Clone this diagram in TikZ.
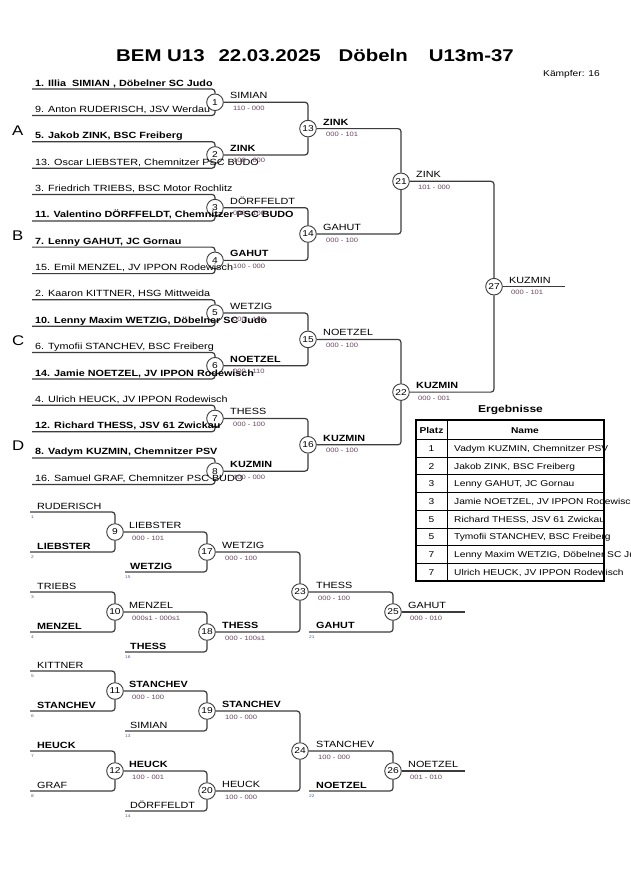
\documentclass[tikz,border=0pt]{standalone}
\usepackage{fontspec}
\setmainfont{Liberation Sans}[FakeStretch=1.2]
\definecolor{linecol}{RGB}{60,60,60}
\definecolor{scorecol}{RGB}{105,70,95}
\definecolor{tinycol}{RGB}{70,90,150}
\begin{document}
\begin{tikzpicture}[x=1pt,y=-1pt,
  ent/.style={anchor=base west,inner sep=0,font=\fontsize{9}{10}\selectfont},
  entb/.style={anchor=base west,inner sep=0,font=\fontsize{9}{10}\selectfont\bfseries},
  sc/.style={anchor=base west,inner sep=0,font=\fontsize{6.3}{7}\selectfont,text=scorecol},
  tiny/.style={anchor=base west,inner sep=0,font=\fontsize{4}{4}\selectfont,text=tinycol},
  num/.style={circle,draw=linecol,fill=white,minimum size=16.6pt,inner sep=0,line width=0.9pt,font=\fontsize{8.5}{9}\selectfont},
  conn/.style={draw=linecol,line width=1.2pt,rounded corners=3pt},
  grp/.style={anchor=base west,inner sep=0,font=\fontsize{14}{15}\selectfont},
  tabtxt/.style={anchor=base west,inner sep=0,font=\fontsize{8.5}{9}\selectfont},
  tabnum/.style={anchor=base,inner sep=0,font=\fontsize{8.5}{9}\selectfont},
  tabhead/.style={anchor=base,inner sep=0,font=\fontsize{8.5}{9}\selectfont\bfseries}
]
\useasboundingbox[fill=white] (0,0) rectangle (630,891);

% ---------- title ----------
\node[anchor=base west,inner sep=0,font=\fontsize{17}{19}\selectfont\bfseries] (title) at (116,62)
  {BEM U13\hspace{14pt}22.03.2025\hspace{18pt}Döbeln\hspace{21pt}U13m-37};
\node[anchor=base west,inner sep=0,font=\fontsize{8.5}{9}\selectfont] (kaempfer) at (543,76) {Kämpfer: 16};

% ---------- group letters ----------
\node[grp] (gA) at (12,135) {A};
\node[grp] (gB) at (12,240) {B};
\node[grp] (gC) at (12,345) {C};
\node[grp] (gD) at (12,450) {D};

% ---------- main bracket: entry line starts ----------
\coordinate (e1) at (32,89.0);
\coordinate (e2) at (32,115.5);
\coordinate (e3) at (32,141.7);
\coordinate (e4) at (32,168.2);
\coordinate (e5) at (32,194.4);
\coordinate (e6) at (32,220.9);
\coordinate (e7) at (32,247.1);
\coordinate (e8) at (32,273.6);
\coordinate (e9) at (32,299.8);
\coordinate (e10) at (32,326.3);
\coordinate (e11) at (32,352.5);
\coordinate (e12) at (32,379.0);
\coordinate (e13) at (32,405.2);
\coordinate (e14) at (32,431.7);
\coordinate (e15) at (32,457.9);
\coordinate (e16) at (32,484.4);
\coordinate (fin) at (565,286.7);

% ---------- main bracket: match circles ----------
\node[num] (m1) at (215,102.25) {1};
\node[num] (m2) at (215,154.95) {2};
\node[num] (m3) at (215,207.65) {3};
\node[num] (m4) at (215,260.35) {4};
\node[num] (m5) at (215,313.05) {5};
\node[num] (m6) at (215,365.75) {6};
\node[num] (m7) at (215,418.45) {7};
\node[num] (m8) at (215,471.15) {8};
\node[num] (m13) at (308,128.6) {13};
\node[num] (m14) at (308,234.0) {14};
\node[num] (m15) at (308,339.4) {15};
\node[num] (m16) at (308,444.8) {16};
\node[num] (m21) at (401,181.3) {21};
\node[num] (m22) at (401,392.1) {22};
\node[num] (m27) at (494,286.7) {27};

% ---------- main bracket connectors ----------
\draw[conn] (e1) -| (m1);  \draw[conn] (e2) -| (m1);
\draw[conn] (e3) -| (m2);  \draw[conn] (e4) -| (m2);
\draw[conn] (e5) -| (m3);  \draw[conn] (e6) -| (m3);
\draw[conn] (e7) -| (m4);  \draw[conn] (e8) -| (m4);
\draw[conn] (e9) -| (m5);  \draw[conn] (e10) -| (m5);
\draw[conn] (e11) -| (m6); \draw[conn] (e12) -| (m6);
\draw[conn] (e13) -| (m7); \draw[conn] (e14) -| (m7);
\draw[conn] (e15) -| (m8); \draw[conn] (e16) -| (m8);
\draw[conn] (m1) -| (m13); \draw[conn] (m2) -| (m13);
\draw[conn] (m3) -| (m14); \draw[conn] (m4) -| (m14);
\draw[conn] (m5) -| (m15); \draw[conn] (m6) -| (m15);
\draw[conn] (m7) -| (m16); \draw[conn] (m8) -| (m16);
\draw[conn] (m13) -| (m21); \draw[conn] (m14) -| (m21);
\draw[conn] (m15) -| (m22); \draw[conn] (m16) -| (m22);
\draw[conn] (m21) -| (m27); \draw[conn] (m22) -| (m27);
\draw[conn] (m27) -- (fin);

% ---------- main bracket: entries ----------
\node[entb] (t1) at (35,86.0) {1. Illia\ \ SIMIAN , Döbelner SC Judo};
\node[ent]  (t2) at (35,112.5) {9. Anton RUDERISCH, JSV Werdau};
\node[entb] (t3) at (35,138.7) {5. Jakob ZINK, BSC Freiberg};
\node[ent]  (t4) at (35,165.2) {13. Oscar LIEBSTER, Chemnitzer PSC BUDO};
\node[ent]  (t5) at (35,191.4) {3. Friedrich TRIEBS, BSC Motor Rochlitz};
\node[entb] (t6) at (35,217.9) {11. Valentino DÖRFFELDT, Chemnitzer PSC BUDO};
\node[entb] (t7) at (35,244.1) {7. Lenny GAHUT, JC Gornau};
\node[ent]  (t8) at (35,270.6) {15. Emil MENZEL, JV IPPON Rodewisch};
\node[ent]  (t9) at (35,296.8) {2. Kaaron KITTNER, HSG Mittweida};
\node[entb] (t10) at (35,323.3) {10. Lenny Maxim WETZIG, Döbelner SC Judo};
\node[ent]  (t11) at (35,349.5) {6. Tymofii STANCHEV, BSC Freiberg};
\node[entb] (t12) at (35,376.0) {14. Jamie NOETZEL, JV IPPON Rodewisch};
\node[ent]  (t13) at (35,402.2) {4. Ulrich HEUCK, JV IPPON Rodewisch};
\node[entb] (t14) at (35,428.7) {12. Richard THESS, JSV 61 Zwickau};
\node[entb] (t15) at (35,454.9) {8. Vadym KUZMIN, Chemnitzer PSV};
\node[ent]  (t16) at (35,481.4) {16. Samuel GRAF, Chemnitzer PSC BUDO};

% ---------- main bracket: winners and scores ----------
\node[ent]  (w1) at (230,98.75) {SIMIAN};     \node[sc] (s1) at (233,110.25) {110 - 000};
\node[entb] (w2) at (230,151.45) {ZINK};      \node[sc] (s2) at (233,162.95) {100 - 000};
\node[ent]  (w3) at (230,204.15) {DÖRFFELDT}; \node[sc] (s3) at (233,215.65) {000 - 100};
\node[entb] (w4) at (230,256.85) {GAHUT};     \node[sc] (s4) at (233,268.35) {100 - 000};
\node[ent]  (w5) at (230,309.55) {WETZIG};    \node[sc] (s5) at (233,321.05) {000 - 100};
\node[entb] (w6) at (230,362.25) {NOETZEL};   \node[sc] (s6) at (233,373.75) {000 - 110};
\node[ent]  (w7) at (230,414.95) {THESS};     \node[sc] (s7) at (233,426.45) {000 - 100};
\node[entb] (w8) at (230,467.65) {KUZMIN};    \node[sc] (s8) at (233,479.15) {100 - 000};
\node[entb] (w13) at (323,125.1) {ZINK};      \node[sc] (s13) at (326,136.6) {000 - 101};
\node[ent]  (w14) at (323,230.5) {GAHUT};     \node[sc] (s14) at (326,242.0) {000 - 100};
\node[ent]  (w15) at (323,335.9) {NOETZEL};   \node[sc] (s15) at (326,347.4) {000 - 100};
\node[entb] (w16) at (323,441.3) {KUZMIN};    \node[sc] (s16) at (326,452.8) {000 - 100};
\node[ent]  (w21) at (416,177.8) {ZINK};      \node[sc] (s21) at (418,189.3) {101 - 000};
\node[entb] (w22) at (416,388.6) {KUZMIN};    \node[sc] (s22) at (418,400.1) {000 - 001};
\node[ent]  (w27) at (509,283.2) {KUZMIN};    \node[sc] (s27) at (511,294.7) {000 - 101};

% ---------- repechage: coordinates ----------
\coordinate (r1) at (30,512);  \coordinate (r2) at (30,552);
\coordinate (r15) at (125,572);
\coordinate (r3) at (30,592);  \coordinate (r4) at (30,632);
\coordinate (r16) at (125,652);
\coordinate (r21) at (309,632);
\coordinate (f25) at (465,612);
\coordinate (r5) at (30,671);  \coordinate (r6) at (30,711);
\coordinate (r13) at (125,731);
\coordinate (r7) at (30,751);  \coordinate (r8) at (30,791);
\coordinate (r14) at (125,811);
\coordinate (r22) at (309,791);
\coordinate (f26) at (465,771);

\node[num] (m9) at (115,532) {9};
\node[num] (m17) at (207,552) {17};
\node[num] (m10) at (115,612) {10};
\node[num] (m18) at (207,632) {18};
\node[num] (m23) at (300,592) {23};
\node[num] (m25) at (393,612) {25};
\node[num] (m11) at (115,691) {11};
\node[num] (m19) at (207,711) {19};
\node[num] (m12) at (115,771) {12};
\node[num] (m20) at (207,791) {20};
\node[num] (m24) at (300,751) {24};
\node[num] (m26) at (393,771) {26};

\draw[conn] (r1) -| (m9);   \draw[conn] (r2) -| (m9);
\draw[conn] (m9) -| (m17);  \draw[conn] (r15) -| (m17);
\draw[conn] (r3) -| (m10);  \draw[conn] (r4) -| (m10);
\draw[conn] (m10) -| (m18); \draw[conn] (r16) -| (m18);
\draw[conn] (m17) -| (m23); \draw[conn] (m18) -| (m23);
\draw[conn] (m23) -| (m25); \draw[conn] (r21) -| (m25);
\draw[conn] (m25) -- (f25);
\draw[conn] (r5) -| (m11);  \draw[conn] (r6) -| (m11);
\draw[conn] (m11) -| (m19); \draw[conn] (r13) -| (m19);
\draw[conn] (r7) -| (m12);  \draw[conn] (r8) -| (m12);
\draw[conn] (m12) -| (m20); \draw[conn] (r14) -| (m20);
\draw[conn] (m19) -| (m24); \draw[conn] (m20) -| (m24);
\draw[conn] (m24) -| (m26); \draw[conn] (r22) -| (m26);
\draw[conn] (m26) -- (f26);

% ---------- repechage texts ----------
\node[ent]  (q1) at (37,509) {RUDERISCH};
\node[entb] (q2) at (37,549) {LIEBSTER};
\node[ent]  (q3) at (37,589) {TRIEBS};
\node[entb] (q4) at (37,629) {MENZEL};
\node[entb] (q15) at (130,569) {WETZIG};
\node[entb] (q16) at (130,649) {THESS};
\node[entb] (q21) at (316,628) {GAHUT};
\node[ent]  (q5) at (37,668) {KITTNER};
\node[entb] (q6) at (37,708) {STANCHEV};
\node[entb] (q7) at (37,748) {HEUCK};
\node[ent]  (q8) at (37,788) {GRAF};
\node[ent]  (q13) at (130,728) {SIMIAN};
\node[ent]  (q14) at (130,808) {DÖRFFELDT};
\node[entb] (q22) at (316,788) {NOETZEL};

\node[tiny] (n1) at (31,518) {1};
\node[tiny] (n2) at (31,558) {2};
\node[tiny] (n3) at (31,598) {3};
\node[tiny] (n4) at (31,638) {4};
\node[tiny] (n15) at (125,578) {15};
\node[tiny] (n16) at (125,658) {16};
\node[tiny] (n21) at (309,638) {21};
\node[tiny] (n5) at (31,677) {5};
\node[tiny] (n6) at (31,717) {6};
\node[tiny] (n13) at (125,737) {13};
\node[tiny] (n7) at (31,757) {7};
\node[tiny] (n8) at (31,797) {8};
\node[tiny] (n14) at (125,817) {14};
\node[tiny] (n22) at (309,797) {22};

\node[ent]  (w9) at (129,528.5) {LIEBSTER};   \node[sc] (s9) at (132,540) {000 - 101};
\node[ent]  (w17) at (222,548.5) {WETZIG};    \node[sc] (s17) at (225,560) {000 - 100};
\node[ent]  (w10) at (129,608.5) {MENZEL};    \node[sc] (s10) at (132,620) {000s1 - 000s1};
\node[entb] (w18) at (222,628.5) {THESS};     \node[sc] (s18) at (225,640) {000 - 100s1};
\node[ent]  (w23) at (316,588.5) {THESS};     \node[sc] (s23) at (318,600) {000 - 100};
\node[ent]  (w25) at (408,608.5) {GAHUT};     \node[sc] (s25) at (410,620) {000 - 010};
\node[entb] (w11) at (129,687.5) {STANCHEV};  \node[sc] (s11) at (132,699) {000 - 100};
\node[entb] (w19) at (222,707.5) {STANCHEV};  \node[sc] (s19) at (225,719) {100 - 000};
\node[entb] (w12) at (129,767.5) {HEUCK};     \node[sc] (s12) at (132,779) {100 - 001};
\node[ent]  (w20) at (222,787.5) {HEUCK};     \node[sc] (s20) at (225,799) {100 - 000};
\node[ent]  (w24) at (316,747.5) {STANCHEV};  \node[sc] (s24) at (318,759) {100 - 000};
\node[ent]  (w26) at (408,767.5) {NOETZEL};   \node[sc] (s26) at (410,779) {001 - 010};

% ---------- results table ----------
\node[anchor=base west,inner sep=0,font=\fontsize{10}{11}\selectfont\bfseries] (erg) at (478,412) {Ergebnisse};
\node[tabhead] (hp) at (431.5,433) {Platz};
\node[tabhead] (hn) at (525,433) {Name};
\node[tabnum] (p1) at (431.5,451.4) {1}; \node[tabtxt] (r1n) at (454,451.4) {Vadym KUZMIN, Chemnitzer PSV};
\node[tabnum] (p2) at (431.5,469.1) {2}; \node[tabtxt] (r2n) at (454,469.1) {Jakob ZINK, BSC Freiberg};
\node[tabnum] (p3) at (431.5,486.8) {3}; \node[tabtxt] (r3n) at (454,486.8) {Lenny GAHUT, JC Gornau};
\node[tabnum] (p4) at (431.5,504.5) {3}; \node[tabtxt] (r4n) at (454,504.5) {Jamie NOETZEL, JV IPPON Rodewisch};
\node[tabnum] (p5) at (431.5,522.2) {5}; \node[tabtxt] (r5n) at (454,522.2) {Richard THESS, JSV 61 Zwickau};
\node[tabnum] (p6) at (431.5,539.9) {5}; \node[tabtxt] (r6n) at (454,539.9) {Tymofii STANCHEV, BSC Freiberg};
\node[tabnum] (p7) at (431.5,557.6) {7}; \node[tabtxt] (r7n) at (454,557.6) {Lenny Maxim WETZIG, Döbelner SC Judo};
\node[tabnum] (p8) at (431.5,575.3) {7}; \node[tabtxt] (r8n) at (454,575.3) {Ulrich HEUCK, JV IPPON Rodewisch};
\draw[line width=0.9pt] (447,420) -- (447,581.1);
\foreach \yy in {439.5,457.2,474.9,492.6,510.3,528,545.7,563.4}
  \draw[line width=0.9pt] (416,\yy) -- (604,\yy);
\draw[line width=1.8pt] (416,420) rectangle (604,581.1);
\end{tikzpicture}
\end{document}
